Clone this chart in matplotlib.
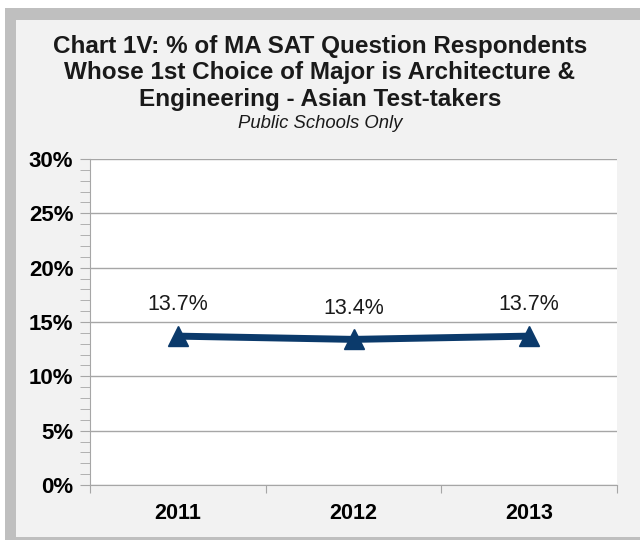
import matplotlib
matplotlib.use("Agg")
import matplotlib.pyplot as plt
from matplotlib.patches import Rectangle
from matplotlib.ticker import MultipleLocator, FuncFormatter

years = ["2011", "2012", "2013"]
pct = [13.7, 13.4, 13.7]
labels = ["13.7%", "13.4%", "13.7%"]
title_lines = ["Chart 1V: % of MA SAT Question Respondents",
               "Whose 1st Choice of Major is Architecture &",
               "Engineering - Asian Test-takers"]

plt.rcParams["font.family"] = ["Liberation Sans", "DejaVu Sans"]

fig = plt.figure(figsize=(6.4, 5.4), dpi=100)
fig.patch.set_facecolor("white")
W, H = 640, 540
# outer frame
fig.patches.append(Rectangle((5 / W, 0), 1 - 5 / W, 1 - 8 / H, transform=fig.transFigure,
                             facecolor="#bfbfbf", edgecolor="none", zorder=-2))
fig.patches.append(Rectangle((16 / W, 3 / H), 1 - 16 / W, 1 - 23 / H, transform=fig.transFigure,
                             facecolor="#f2f2f2", edgecolor="none", zorder=-1))

ax = fig.add_axes([90 / W, 1 - 485 / H, (617 - 90) / W, (485 - 159) / H])
ax.set_facecolor("white")
x = range(len(years))
ax.plot(x, pct, color="#0b3a6b", lw=5, marker="^", ms=15, solid_capstyle="butt", zorder=3)
for xi, v, t in zip(x, pct, labels):
    ax.annotate(t, (xi, v), xytext=(0, 15), textcoords="offset points", ha="center",
                va="bottom", fontsize=15.5, color="#1a1a1a")

ax.set_xlim(-0.5, 2.5)
ax.set_ylim(0, 30)
ax.yaxis.set_major_locator(MultipleLocator(5))
ax.yaxis.set_minor_locator(MultipleLocator(1))
ax.yaxis.set_major_formatter(FuncFormatter(lambda v, p: f"{v:.0f}%"))
ax.grid(axis="y", which="major", color="#a6a6a6", lw=1)
ax.set_axisbelow(True)
ax.set_xticks([-0.5, 0.5, 1.5, 2.5])
ax.set_xticklabels([])
ax.set_xticks(list(x), minor=True)
ax.set_xticklabels(years, minor=True, fontsize=15.5, fontweight="bold")
ax.tick_params(axis="x", which="major", length=6, color="#a6a6a6", direction="out")
ax.tick_params(axis="x", which="minor", length=0, pad=13)
ax.tick_params(axis="y", which="both", length=7, color="#a6a6a6", direction="out",
               labelsize=16, pad=5)
for lab in ax.get_yticklabels():
    lab.set_fontweight("bold")
for s in ["top", "right"]:
    ax.spines[s].set_visible(False)
for s in ["left", "bottom"]:
    ax.spines[s].set_color("#a6a6a6")

for i, line in enumerate(title_lines):
    fig.text(0.5, 1 - (46 + 27 * i) / H, line, ha="center", va="center",
             fontsize=17.5, fontweight="bold", color="#1a1a1a")
fig.text(0.5, 1 - 123 / H, "Public Schools Only", ha="center", va="center",
         fontsize=13.3, style="italic", color="#1a1a1a")

fig.savefig("out.png", dpi=100)
